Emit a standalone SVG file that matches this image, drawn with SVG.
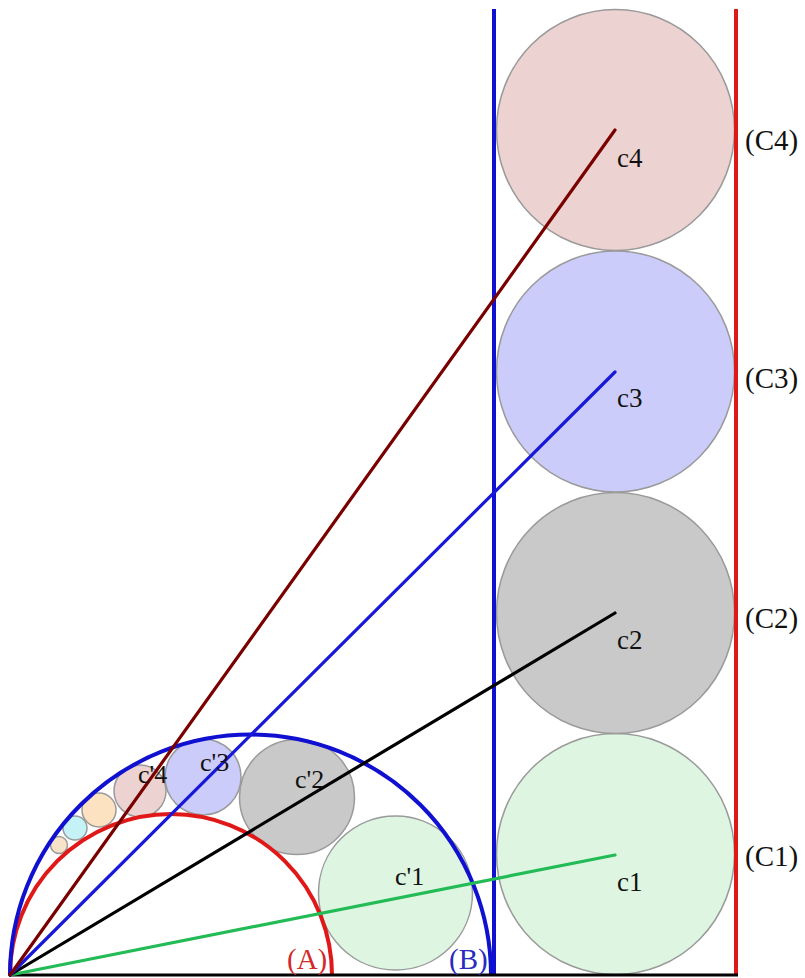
<svg xmlns="http://www.w3.org/2000/svg" width="805" height="978" viewBox="0 0 805 978">
<style>
.c{stroke:#9a9a9a;stroke-width:1.5}
.g1{fill:#def5e2}
.g2{fill:#c9c9c9}
.g3{fill:#ccccfb}
.g4{fill:#edd2d2}
.g5{fill:#fde2c2}
.g6{fill:#c4f2f6}
.g7{fill:#f8e2c8}
.t{font-family:"Liberation Serif","Times New Roman",serif;fill:#111}
.tl{font-size:27px}
.tp{font-size:26px}
.tb{font-size:29px}
.ray{fill:none;stroke-width:3.2;stroke-linecap:round}
</style>
<rect width="805" height="978" fill="#ffffff"/>
<g id="C1"><ellipse class="c g1" cx="615.5" cy="854" rx="119" ry="120.5"/></g>
<g id="C2"><ellipse class="c g2" cx="615.5" cy="613" rx="119" ry="120.5"/></g>
<g id="C3"><ellipse class="c g3" cx="615.5" cy="371.5" rx="119" ry="120.5"/></g>
<g id="C4"><ellipse class="c g4" cx="615.5" cy="130" rx="119" ry="120.5"/></g>
<g id="cp1"><circle class="c g1" cx="395.5" cy="893" r="77"/></g>
<g id="cp2"><circle class="c g2" cx="297" cy="797" r="57.5"/></g>
<g id="cp3"><circle class="c g3" cx="203" cy="777" r="38"/></g>
<g id="cp4"><circle class="c g4" cx="140" cy="791" r="26"/></g>
<g id="cp5"><circle class="c g5" cx="99" cy="810" r="17"/></g>
<g id="cp6"><circle class="c g6" cx="75" cy="828" r="12"/></g>
<g id="cp7"><circle class="c g7" cx="59" cy="845" r="8.5"/></g>
<g id="A"><path d="M10 975 A161 161 0 0 1 332 975" fill="none" stroke="#e01818" stroke-width="4"/></g>
<g id="B"><path d="M10 975 A240.5 240.5 0 0 1 491 975" fill="none" stroke="#1010d0" stroke-width="4"/></g>
<g id="lineB"><line x1="494" y1="9" x2="494" y2="975" stroke="#1010d0" stroke-width="4"/></g>
<g id="lineA"><line x1="736" y1="9" x2="736" y2="975" stroke="#e01818" stroke-width="4"/></g>
<g id="baseline"><line x1="9" y1="975" x2="738" y2="975" stroke="#000" stroke-width="3"/></g>
<g id="connectors">
<line class="ray" x1="10" y1="975" x2="615" y2="855" stroke="#22bb55"/>
<line class="ray" x1="10" y1="975" x2="615" y2="613" stroke="#000000"/>
<line class="ray" x1="10" y1="975" x2="615" y2="372" stroke="#1818d8"/>
<line class="ray" x1="10" y1="975" x2="615" y2="130" stroke="#7a0000"/>
</g>
<g id="labels">
<text class="t tl" x="617" y="891">c1</text>
<text class="t tl" x="617" y="649">c2</text>
<text class="t tl" x="617" y="407">c3</text>
<text class="t tl" x="617" y="167">c4</text>
<text class="t tb" x="745" y="866">(C1)</text>
<text class="t tb" x="745" y="628">(C2)</text>
<text class="t tb" x="745" y="388">(C3)</text>
<text class="t tb" x="745" y="150">(C4)</text>
<text class="t tp" x="395" y="885">c'1</text>
<text class="t tp" x="295" y="788">c'2</text>
<text class="t tp" x="200" y="771">c'3</text>
<text class="t tp" x="138" y="783">c'4</text>
<text class="t tb" x="287" y="969" style="fill:#d42a2a">(A)</text>
<text class="t tb" x="449" y="969" style="fill:#2a2ac0">(B)</text>
</g>
</svg>
